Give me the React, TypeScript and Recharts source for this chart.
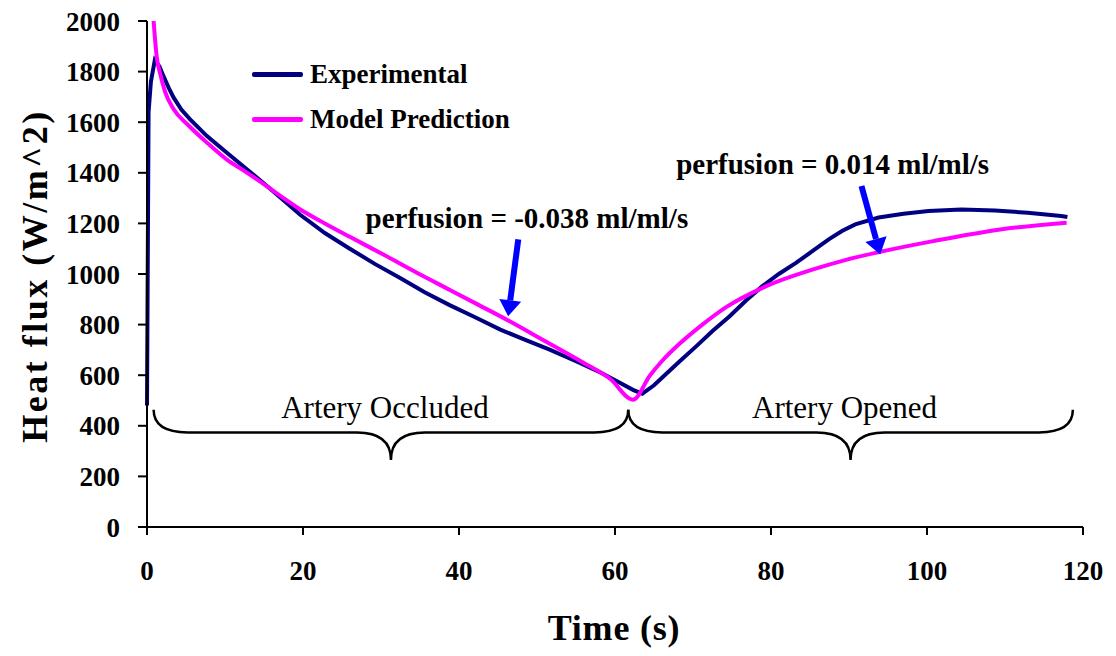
import React from "react";
import {
  ComposedChart,
  Line,
  XAxis,
  YAxis,
  Legend,
  Label,
  ReferenceLine,
  ReferenceDot
} from "recharts";

const FONT = '"Liberation Serif", "Times New Roman", serif';

// Experimental trace (time s, heat flux W/m^2)
const expTime = [0, 0.1, 0.2, 0.5, 1.0, 1.6, 2.1, 2.8, 3.4, 4.4, 5.5, 7.65, 10.2, 12.8, 15.3, 17.5, 19.6, 22.8, 26, 29.2, 32.4, 35.6, 38.8, 42, 45.3, 48.5, 51.7, 55, 58.2, 60.5, 62.3, 63.5, 65, 66.2, 68.3, 70.4, 72.5, 74.7, 76.8, 78.9, 81, 83.2, 85.3, 87.4, 89.1, 90.8, 93.8, 97, 100.2, 104.4, 108.7, 112.9, 117.2, 118];
const expFlux = [480, 1060, 1640, 1760, 1845, 1820, 1783, 1735, 1698, 1650, 1612, 1546, 1480, 1414, 1350, 1292, 1235, 1162, 1100, 1040, 985, 928, 877, 830, 780, 740, 700, 655, 610, 572, 542, 527, 560, 595, 655, 714, 775, 833, 895, 952, 1000, 1044, 1090, 1137, 1170, 1196, 1223, 1238, 1249, 1255, 1251, 1242, 1229, 1225];

// Model prediction
const modelTime = [0.8, 1.24, 1.7, 2.3, 3.4, 5.3, 7.65, 10.2, 12.8, 15.3, 17.5, 19.6, 22.8, 26, 30.3, 34.6, 38.9, 42.5, 46.5, 51, 55.9, 59.4, 62.3, 64.5, 66, 68.3, 71, 74.3, 79.4, 85.4, 89.5, 93.6, 100.8, 109.4, 117.9];
const modelFlux = [2020, 1860, 1790, 1722, 1652, 1588, 1520, 1453, 1401, 1348, 1300, 1256, 1200, 1147, 1077, 1005, 936, 878, 813, 735, 650, 585, 503, 600, 655, 725, 795, 870, 952, 1018, 1055, 1085, 1130, 1176, 1203];

const xTicks = [0, 20, 40, 60, 80, 100, 120];
const yTicks = [0, 200, 400, 600, 800, 1000, 1200, 1400, 1600, 1800, 2000];

// annotations
const perfusionText = ["perfusion = -0.038 ml/ml/s", "perfusion = 0.014 ml/ml/s"];
const perfusionTime = [48.7, 87.9];
const perfusionFlux = [1180, 1394];
const arrowTailTime = [47.6, 91.6];
const arrowTailFlux = [1137, 1348];
const arrowTipTime = [46.3, 94];
const arrowTipFlux = [833, 1077];

const phaseNames = ["Artery Occluded", "Artery Opened"];
const phaseStart = [0.85, 61.7];
const phaseEnd = [61.7, 118.7];
const braceTopFlux = 463;
const braceTipFlux = 265;

const expData = expTime.map((t, i) => ({ t, flux: expFlux[i] }));
const modelData = modelTime.map((t, i) => ({ t, flux: modelFlux[i] }));

const Arrow = (p: any) => {
  const { x1, y1, x2, y2 } = p;
  const dx = x2 - x1;
  const dy = y2 - y1;
  const len = Math.hypot(dx, dy) || 1;
  const ux = dx / len;
  const uy = dy / len;
  const head = 16;
  const half = 11;
  const bx = x2 - ux * head;
  const by = y2 - uy * head;
  const px = -uy;
  const py = ux;
  return (
    <g>
      <line x1={x1} y1={y1} x2={bx} y2={by} stroke="#0000FF" strokeWidth={6} />
      <polygon
        points={`${x2},${y2} ${bx + px * half},${by + py * half} ${bx - px * half},${by - py * half}`}
        fill="#0000FF"
      />
    </g>
  );
};

// segment goes from (start, top) to (end, tip); brace bar sits between
const Brace = (p: any, text: string) => {
  const { x1, y1, x2, y2 } = p;
  const xm = (x1 + x2) / 2;
  const yBar = y1 + (y2 - y1) * 0.45;
  const r = 34;
  const d = `M${x1},${y1} Q${x1},${yBar} ${x1 + r},${yBar} L${xm - r},${yBar} Q${xm},${yBar} ${xm},${y2} Q${xm},${yBar} ${xm + r},${yBar} L${x2 - r},${yBar} Q${x2},${yBar} ${x2},${y1}`;
  return (
    <g>
      <path d={d} fill="none" stroke="#000" strokeWidth={2.5} />
      <text x={xm - 6} y={y1 + 8} textAnchor="middle" fontFamily={FONT} fontSize={31} fill="#000">
        {text}
      </text>
    </g>
  );
};

const renderLegend = (props: any) => (
  <div>
    {(props.payload || []).map((e: any) => (
      <div key={e.value} style={{ display: "flex", alignItems: "center", height: 28, marginBottom: 17 }}>
        <div style={{ width: 51, height: 5, background: e.color, borderRadius: 2 }} />
        <span style={{ marginLeft: 7, fontFamily: FONT, fontWeight: "bold", fontSize: 27, lineHeight: "28px", color: "#000" }}>
          {e.value}
        </span>
      </div>
    ))}
  </div>
);

const tickStyle = { fontFamily: FONT, fontSize: 27, fontWeight: "bold", fill: "#000" };

export default function App() {
  return (
    <div style={{ position: "absolute", left: 0, top: 0 }}>
      <ComposedChart width={1116} height={656} margin={{ top: 21, right: 33, bottom: 0, left: 0 }}>
        <XAxis
          type="number"
          dataKey="t"
          domain={[0, 120]}
          ticks={xTicks}
          height={129}
          tick={tickStyle}
          tickSize={8}
          tickMargin={26}
          axisLine={{ stroke: "#000", strokeWidth: 2 }}
          tickLine={{ stroke: "#000", strokeWidth: 2 }}
        >
          <Label
            content={(lp: any) => {
              const vb = lp.viewBox || { x: 147, y: 527, width: 936, height: 129 };
              return (
                <text x={vb.x + vb.width / 2 - 1} y={vb.y + 113} textAnchor="middle" fontFamily={FONT} fontWeight="bold" fontSize={36} letterSpacing={0.8} fill="#000">
                  Time (s)
                </text>
              );
            }}
          />
        </XAxis>
        <YAxis
          type="number"
          domain={[0, 2000]}
          allowDataOverflow
          ticks={yTicks}
          width={147}
          tick={tickStyle}
          tickSize={9}
          tickMargin={18}
          axisLine={{ stroke: "#000", strokeWidth: 2 }}
          tickLine={{ stroke: "#000", strokeWidth: 2 }}
        >
          <Label
            content={(lp: any) => {
              const vb = lp.viewBox || { x: 0, y: 21, width: 147, height: 506 };
              const x = vb.x + 47;
              const y = vb.y + vb.height / 2 + 2;
              return (
                <text x={x} y={y} transform={`rotate(-90 ${x} ${y})`} textAnchor="middle" fontFamily={FONT} fontWeight="bold" fontSize={36} letterSpacing={2.5} fill="#000">
                  Heat flux (W/m^2)
                </text>
              );
            }}
          />
        </YAxis>
        <Legend
          layout="vertical"
          align="center"
          verticalAlign="middle"
          content={renderLegend}
          wrapperStyle={{ left: 252, top: 60, width: 320 }}
        />
        <Line
          data={expData}
          dataKey="flux"
          name="Experimental"
          type="linear"
          stroke="#000080"
          strokeWidth={4}
          dot={false}
          isAnimationActive={false}
        />
        <Line
          data={modelData}
          dataKey="flux"
          name="Model Prediction"
          type="monotone"
          stroke="#FF00FF"
          strokeWidth={4}
          dot={false}
          isAnimationActive={false}
        />
        {phaseNames.map((name, i) => (
          <ReferenceLine
            key={name}
            segment={[
              { x: phaseStart[i], y: braceTopFlux },
              { x: phaseEnd[i], y: braceTipFlux }
            ]}
            shape={(p: any) => Brace(p, name)}
          />
        ))}
        {perfusionText.map((txt, i) => (
          <ReferenceLine
            key={"arrow" + i}
            segment={[
              { x: arrowTailTime[i], y: arrowTailFlux[i] },
              { x: arrowTipTime[i], y: arrowTipFlux[i] }
            ]}
            shape={Arrow}
          />
        ))}
        {perfusionText.map((txt, i) => (
          <ReferenceDot
            key={txt}
            x={perfusionTime[i]}
            y={perfusionFlux[i]}
            r={0}
            shape={(p: any) => (
              <text x={p.cx} y={p.cy} textAnchor="middle" fontFamily={FONT} fontWeight="bold" fontSize={29} fill="#000">
                {txt}
              </text>
            )}
          />
        ))}
      </ComposedChart>
    </div>
  );
}
